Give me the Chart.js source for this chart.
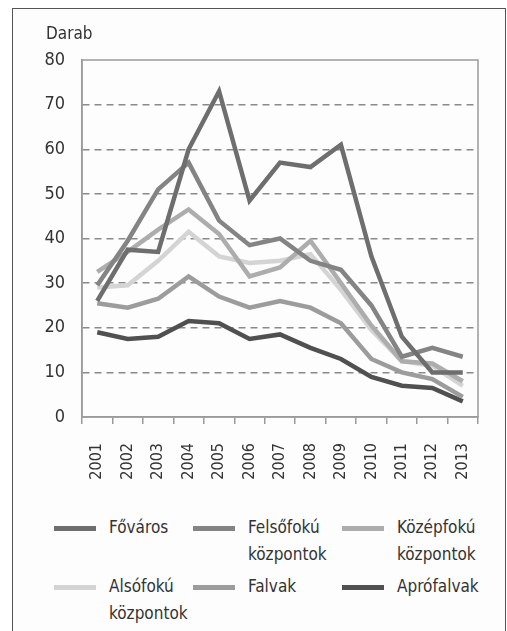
<!DOCTYPE html>
<html>
<head>
<meta charset="utf-8">
<script src="https://cdn.jsdelivr.net/npm/chart.js@4/dist/chart.umd.min.js"></script>
<style>
  body { margin: 0; background: #fff; font-family: "Liberation Sans Narrow", "DejaVu Sans Condensed", sans-serif; }
  #frame { position: absolute; left: 12px; top: 8px; width: 492px; height: 640px; border: 1.5px solid #555; background: #fdfdfd; }
  #wrap { position: absolute; left: 0; top: 0; width: 507px; height: 500px; }
  #darab { position: absolute; left: 46px; top: 23px; font-size: 17px; color: #333; }
  #legend { position: absolute; left: 0; top: 514px; width: 507px; }
  .item { position: absolute; font-size: 17px; line-height: 27px; color: #333; }
  .item span.sw { position: absolute; left: -55px; top: 12px; width: 42px; height: 4.5px; }
</style>
</head>
<body>
<div id="frame"></div>
<div id="wrap"><canvas id="myChart" width="507" height="500"></canvas></div>
<div id="darab">Darab</div>
<div id="legend"></div>
<script>
var years = ['2001', '2002', '2003', '2004', '2005', '2006', '2007', '2008', '2009', '2010', '2011', '2012', '2013'];
var yTicks = [0, 10, 20, 30, 40, 50, 60, 70, 80];

var fovaros    = [26, 37.5, 37, 60, 73, 48.5, 57, 56, 61, 36, 18, 10, 10];
var felsofoku  = [29.5, 39.5, 51, 57, 44, 38.5, 40, 35, 33, 25, 13.5, 15.5, 13.5];
var kozepfoku  = [32.5, 37, 42, 46.5, 41, 31.5, 33.5, 39.5, 30, 20.5, 12.5, 12, 8];
var alsofoku   = [29, 29.5, 35, 41.5, 36, 34.5, 35, 36.5, 28.5, 19.5, 12.5, 11.5, 7];
var falvak     = [25.5, 24.5, 26.5, 31.5, 27, 24.5, 26, 24.5, 21, 13, 10, 8.5, 4.5];
var aprofalvak = [19, 17.5, 18, 21.5, 21, 17.5, 18.5, 15.5, 13, 9, 7, 6.5, 3.5];

var names = [['Főváros'], ['Felsőfokú', 'központok'], ['Középfokú', 'központok'],
             ['Alsófokú', 'központok'], ['Falvak'], ['Aprófalvak']];
var colors = ['#6e6e6e', '#848484', '#adadad', '#d4d4d4', '#9c9c9c', '#505050'];
var series = [fovaros, felsofoku, kozepfoku, alsofoku, falvak, aprofalvak];

var FONT = '"Liberation Sans Narrow", "DejaVu Sans Condensed", sans-serif';

// solid frame round the plot area
var plotBox = {
    id: 'plotBox',
    beforeDatasetsDraw: function(chart) {
        var a = chart.chartArea, c = chart.ctx;
        c.save();
        c.strokeStyle = '#9a9a9a';
        c.lineWidth = 1.5;
        c.strokeRect(a.left, a.top, a.right - a.left, a.bottom - a.top);
        c.restore();
    }
};

var ctx = document.getElementById('myChart').getContext('2d');
var myChart = new Chart(ctx, {
    type: 'line',
    data: {
        labels: years,
        datasets: series.map(function(d, i) {
            return {
                label: names[i].join(' '),
                data: d,
                borderColor: colors[i],
                backgroundColor: colors[i],
                borderWidth: 4.5,
                pointRadius: 0,
                tension: 0,
                borderJoinStyle: 'miter'
            };
        })
    },
    options: {
        responsive: false,
        animation: false,
        layout: { padding: { top: 60, right: 29, left: 0, bottom: 0 } },
        plugins: { legend: { display: false }, tooltip: { enabled: false } },
        scales: {
            x: {
                offset: true,
                grid: { offset: true, drawOnChartArea: false, drawTicks: true, tickLength: 7, color: '#9a9a9a', lineWidth: 1.5 },
                border: { color: '#9a9a9a', width: 1.5 },
                ticks: { maxRotation: 90, minRotation: 90, padding: 19, color: '#333', font: { family: FONT, size: 16 } },
                afterFit: function(s) { s.height = 83; }
            },
            y: {
                min: 0, max: 80,
                afterBuildTicks: function(s) { s.ticks = yTicks.map(function(v) { return { value: v }; }); },
                grid: {
                    drawTicks: false,
                    lineWidth: 1.5,
                    color: function(c) { return (c.tick.value === 0 || c.tick.value === 80) ? 'rgba(0,0,0,0)' : '#8a8a8a'; }
                },
                border: { display: true, color: '#9a9a9a', width: 1.5, dash: [7, 5] },
                ticks: { padding: 17, color: '#333', font: { family: FONT, size: 18 } },
                afterFit: function(s) { s.width = 82; }
            }
        }
    },
    plugins: [plotBox]
});

// legend as html
var pos = [[109, 0], [248, 0], [397, 0], [109, 59], [248, 59], [397, 59]];
var lg = document.getElementById('legend');
names.forEach(function(n, i) {
    var d = document.createElement('div');
    d.className = 'item';
    d.style.left = pos[i][0] + 'px';
    d.style.top = pos[i][1] + 'px';
    d.innerHTML = '<span class="sw" style="background:' + colors[i] + '"></span>' + n.join('<br>');
    lg.appendChild(d);
});
</script>
</body>
</html>
